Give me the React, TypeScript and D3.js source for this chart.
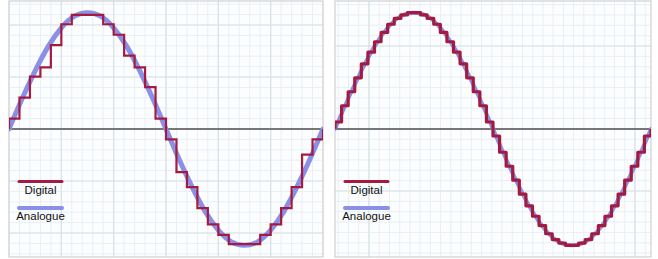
import React from "react";
import * as d3 from "d3";

// Digital samples (held levels), left panel: 30 samples per cycle
const LEFT_DIGITAL = [0.09, 0.27, 0.45, 0.53, 0.72, 0.9, 0.98, 0.98, 0.98, 0.9, 0.81, 0.63, 0.53, 0.36, 0.09,
  -0.09, -0.37, -0.5, -0.68, -0.82, -0.91, -0.99, -0.99, -0.99, -0.91, -0.82, -0.68, -0.5, -0.22, -0.09];
// Right panel: 48 samples per cycle
const RIGHT_DIGITAL = [0.06, 0.2, 0.32, 0.44, 0.56, 0.66, 0.75, 0.83, 0.9, 0.95, 0.98, 1.0, 1.0, 0.98, 0.95, 0.9,
  0.83, 0.75, 0.66, 0.56, 0.44, 0.32, 0.2, 0.06, -0.06, -0.2, -0.32, -0.44, -0.56, -0.66, -0.75, -0.83, -0.9,
  -0.95, -0.98, -1.0, -1.0, -0.98, -0.95, -0.9, -0.83, -0.75, -0.66, -0.56, -0.44, -0.32, -0.2, -0.06];
// Analogue waveform read at every 1/24 of the cycle
const ANALOGUE = [0, 0.26, 0.5, 0.71, 0.87, 0.97, 1, 0.97, 0.87, 0.71, 0.5, 0.26, 0, -0.26, -0.5, -0.71, -0.87,
  -0.97, -1, -0.97, -0.87, -0.71, -0.5, -0.26, 0];
const LEGEND = ["Digital", "Analogue"];

const DIGITAL_COLOR = "#a31c40";
const ANALOGUE_COLOR = "#8a8fe8";

type PanelProps = {
  id: string;
  x0: number;
  x1: number;
  digital: number[];
  digitalWidth: number;
  analogueWidth: number;
  join: string;
  gridX: { start: number; step: number; major: number[] };
  gridY: { start: number; step: number; major: number[] };
};

const Y0 = 1;
const Y1 = 257;

function Panel({ id, x0, x1, digital, digitalWidth, analogueWidth, join, gridX, gridY }: PanelProps) {
  const x = d3.scaleLinear().domain([0, 1]).range([x0, x1]);
  const y = d3.scaleLinear().domain([-1.1, 1.1]).range([Y1, Y0]);
  const n = digital.length;

  const minorXs: number[] = [];
  for (let v = gridX.start; v >= x0; v -= gridX.step) minorXs.push(v);
  for (let v = gridX.start + gridX.step; v <= x1; v += gridX.step) minorXs.push(v);
  const minorYs: number[] = [];
  for (let v = gridY.start; v >= Y0; v -= gridY.step) minorYs.push(v);
  for (let v = gridY.start + gridY.step; v <= Y1; v += gridY.step) minorYs.push(v);

  const pts: [number, number][] = [[0, 0]];
  digital.forEach((v, i) => pts.push([i / n, v]));
  pts.push([1, digital[n - 1]]);
  pts.push([1, 0]);
  const stepLine = d3
    .line<[number, number]>()
    .x((d) => x(d[0]))
    .y((d) => y(d[1]))
    .curve(d3.curveStepAfter);

  const anaLine = d3
    .line<number>()
    .x((_, i) => x(i / (ANALOGUE.length - 1)))
    .y((d) => y(d))
    .curve(d3.curveNatural);

  const lx0 = x0 + 10;
  const lx1 = x0 + 53;
  const lcx = (lx0 + lx1) / 2;

  return (
    <g>
      <defs>
        <clipPath id={id}>
          <rect x={x0} y={Y0} width={x1 - x0} height={Y1 - Y0} />
        </clipPath>
      </defs>
      <rect x={x0} y={Y0} width={x1 - x0} height={Y1 - Y0} fill="#fcfdfe" />
      {minorXs.map((v, i) => (
        <line key={"mx" + i} x1={v} x2={v} y1={Y0} y2={Y1} stroke="#e9eff4" strokeWidth={1} />
      ))}
      {minorYs.map((v, i) => (
        <line key={"my" + i} x1={x0} x2={x1} y1={v} y2={v} stroke="#e9eff4" strokeWidth={1} />
      ))}
      {gridX.major.map((v, i) => (
        <line key={"Mx" + i} x1={v} x2={v} y1={Y0} y2={Y1} stroke="#d6e2e7" strokeWidth={1.2} />
      ))}
      {gridY.major.map((v, i) => (
        <line key={"My" + i} x1={x0} x2={x1} y1={v} y2={v} stroke="#d6e2e7" strokeWidth={1.2} />
      ))}
      <rect x={x0} y={Y0} width={x1 - x0} height={Y1 - Y0} fill="none" stroke="#d0d0d0" strokeWidth={1.2} />
      <line x1={x0} x2={x1} y1={y(0)} y2={y(0)} stroke="#777" strokeWidth={2} />
      <g clipPath={`url(#${id})`}>
        <path d={anaLine(ANALOGUE) || ""} fill="none" stroke={ANALOGUE_COLOR} strokeWidth={analogueWidth} strokeLinecap="round" />
        <path d={stepLine(pts) || ""} fill="none" stroke={DIGITAL_COLOR} strokeWidth={digitalWidth} strokeLinejoin={join as any} />
      </g>
      <line x1={lx0} x2={lx1} y1={181.5} y2={181.5} stroke={DIGITAL_COLOR} strokeWidth={3} strokeLinecap="round" />
      <text x={lcx} y={193.5} textAnchor="middle" fontSize={11.5} fontFamily="Liberation Sans, Arial, sans-serif" fill="#111">
        {LEGEND[0]}
      </text>
      <line x1={lx0} x2={lx1} y1={208} y2={208} stroke={ANALOGUE_COLOR} strokeWidth={4} strokeLinecap="round" />
      <text x={lcx} y={219.5} textAnchor="middle" fontSize={11.5} fontFamily="Liberation Sans, Arial, sans-serif" fill="#111">
        {LEGEND[1]}
      </text>
    </g>
  );
}

export default function App() {
  return (
    <svg width={658} height={259} style={{ position: "absolute", left: 0, top: 0, background: "#fff" }}>
      <Panel
        id="clipL"
        x0={9}
        x1={323}
        digital={LEFT_DIGITAL}
        digitalWidth={2.2}
        analogueWidth={5}
        join="miter"
        gridX={{ start: 9, step: 52.33 / 5, major: [61.3, 113.7, 166, 218.3, 270.7] }}
        gridY={{ start: 25, step: 10.4, major: [25, 77, 181, 233] }}
      />
      <Panel
        id="clipR"
        x0={335}
        x1={651}
        digital={RIGHT_DIGITAL}
        digitalWidth={3.2}
        analogueWidth={4}
        join="round"
        gridX={{ start: 369, step: 266 / 26, major: [369, 635] }}
        gridY={{ start: 46, step: 145 / 14, major: [46, 191] }}
      />
    </svg>
  );
}
